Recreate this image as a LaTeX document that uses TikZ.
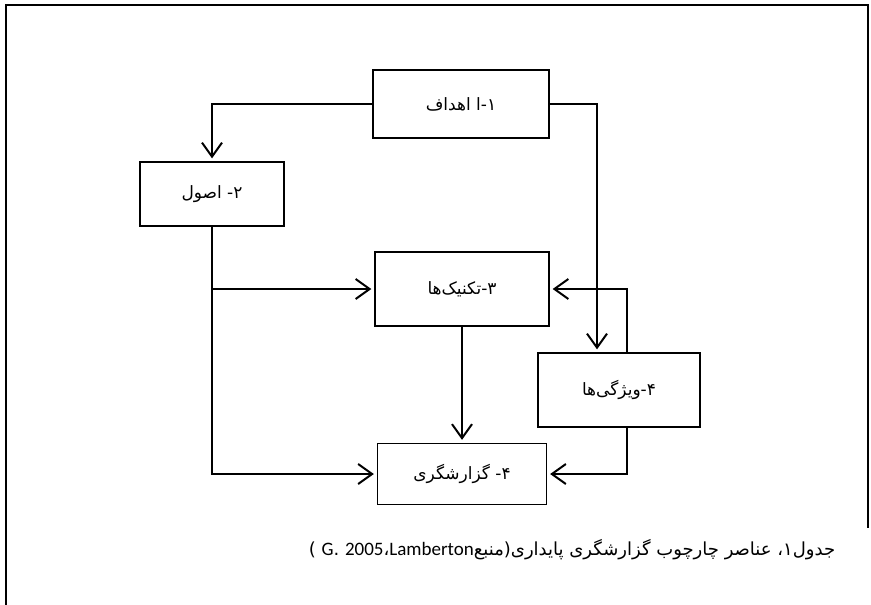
\documentclass[tikz,border=0pt]{standalone}
\usepackage{fontspec}
\TeXXeTstate=1
\newfontfamily\arabicfont[Script=Arabic]{DejaVu Sans}
\newfontfamily\latinfont{Carlito}
\usetikzlibrary{arrows.meta}

\begin{document}
\begin{tikzpicture}[x=1pt,y=-1pt,
	box/.style={draw, line width=1.3pt, fill=white, inner sep=0pt, font=\arabicfont\fontsize{17}{20}\selectfont},
	arr/.style={line width=2pt, -{Straight Barb[length=14pt,width=20pt]}, shorten >=3pt}]
	\useasboundingbox (0,0) rectangle (871,605);
	\draw[line width=1.5pt] (6,605)--(6,5)--(868,5)--(868,528);

	\node[box, minimum width=176pt, minimum height=68pt] (ahdaf) at (461,104) {\beginR ۱-ا اهداف\endR};
	\node[box, minimum width=144pt, minimum height=64pt] (osul) at (212,194) {\beginR ۲- اصول\endR};
	\node[box, minimum width=174pt, minimum height=74pt] (takn) at (462,289) {\beginR ۳-تکنیک‌ها\endR};
	\node[box, minimum width=162pt, minimum height=74pt] (vizh) at (619,390) {\beginR ۴-ویژگی‌ها\endR};
	\node[box, minimum width=169pt, minimum height=61pt] (gozar) at (462,474) {\beginR ۴- گزارشگری\endR};

	\draw[arr] (ahdaf.west) -| (osul.north);
	\draw[arr] (ahdaf.east) -| ([xshift=-22pt]vizh.north);
	\draw[arr] (osul.south) |- (takn.west);
	\draw[arr] (osul.south) |- (gozar.west);
	\draw[arr] (takn.south) -- (gozar.north);
	\draw[arr] ([xshift=8pt]vizh.north) |- (takn.east);
	\draw[arr] ([xshift=8pt]vizh.south) |- (gozar.east);

	\node[font=\arabicfont\fontsize{18}{20}\selectfont] (cap) at (572,550) {\beginR جدول۱، عناصر چارچوب گزارشگری پایداری(منبع{\latinfont\fontsize{19}{20}\selectfont Lamberton}،{\latinfont\fontsize{19}{20}\selectfont 2005} .{\latinfont\fontsize{19}{20}\selectfont G} )\endR};
\end{tikzpicture}
\end{document}
